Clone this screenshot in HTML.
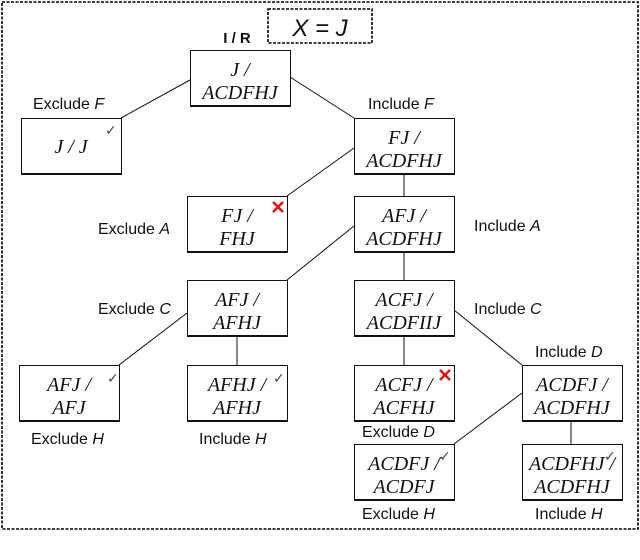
<!DOCTYPE html>
<html><head><meta charset="utf-8"><style>
html,body{margin:0;padding:0;background:#fff;}
svg{display:block;}
.bt{font-family:"Liberation Serif",serif;font-style:italic;font-size:20px;fill:#111;}
.lb{font-family:"Liberation Sans",sans-serif;font-size:16px;fill:#111;}
.lb tspan.i{font-style:italic;}
</style></head><body>
<svg width="640" height="560" viewBox="0 0 640 560" xmlns="http://www.w3.org/2000/svg">
<rect x="2" y="2" width="636" height="527" fill="none" stroke="#000" stroke-width="1.6" stroke-dasharray="3,1.5"/>
<rect x="268" y="9" width="104" height="34" fill="none" stroke="#000" stroke-width="1.6" stroke-dasharray="3,1.5"/>
<text x="320" y="36" text-anchor="middle" font-family="Liberation Sans,sans-serif" font-size="24" font-style="italic" fill="#111">X = J</text>
<text x="237" y="43" text-anchor="middle" font-family="Liberation Sans,sans-serif" font-size="15" font-weight="bold" fill="#111">I / R</text>
<g stroke="#111" stroke-width="1" fill="none">
<line x1="190" y1="80" x2="121" y2="118"/>
<line x1="290" y1="77" x2="354" y2="118"/>
<line x1="354" y1="148" x2="287" y2="196"/>
<line x1="404" y1="173" x2="404" y2="196"/>
<line x1="354" y1="226" x2="287" y2="280"/>
<line x1="404" y1="251" x2="404" y2="280"/>
<line x1="187" y1="313" x2="119" y2="365"/>
<line x1="237" y1="336" x2="237" y2="365"/>
<line x1="404" y1="336" x2="404" y2="365"/>
<line x1="454" y1="310" x2="522" y2="365"/>
<line x1="522" y1="393" x2="454" y2="444"/>
<line x1="571" y1="420" x2="571" y2="444"/>
</g>
<g fill="#fff" stroke="#111" stroke-width="1">
<rect x="190.5" y="50.5" width="100" height="55"/>
<rect x="21.5" y="118.5" width="100" height="55"/>
<rect x="354.5" y="118.5" width="100" height="55"/>
<rect x="187.5" y="196.5" width="100" height="55"/>
<rect x="354.5" y="196.5" width="100" height="55"/>
<rect x="187.5" y="280.5" width="100" height="55"/>
<rect x="354.5" y="280.5" width="100" height="55"/>
<rect x="19.5" y="365.5" width="100" height="55"/>
<rect x="187.5" y="365.5" width="100" height="55"/>
<rect x="354.5" y="365.5" width="100" height="55"/>
<rect x="522.5" y="365.5" width="100" height="55"/>
<rect x="354.5" y="444.5" width="100" height="55"/>
<rect x="522.5" y="444.5" width="100" height="55"/>
</g>
<g stroke="#111" stroke-width="2">
<line x1="190" y1="106" x2="291" y2="106"/><line x1="21" y1="174" x2="122" y2="174"/>
<line x1="354" y1="174" x2="455" y2="174"/><line x1="187" y1="252" x2="288" y2="252"/>
<line x1="354" y1="252" x2="455" y2="252"/><line x1="187" y1="336" x2="288" y2="336"/>
<line x1="354" y1="336" x2="455" y2="336"/><line x1="19" y1="421" x2="120" y2="421"/>
<line x1="187" y1="421" x2="288" y2="421"/><line x1="354" y1="421" x2="455" y2="421"/>
<line x1="522" y1="421" x2="623" y2="421"/><line x1="354" y1="500" x2="455" y2="500"/>
<line x1="522" y1="500" x2="623" y2="500"/>
</g>
<g class="bt" text-anchor="middle">
<text x="240" y="76">J /</text><text x="240" y="99">ACDFHJ</text>
<text x="71" y="153">J / J</text>
<text x="404" y="144">FJ /</text><text x="404" y="167">ACDFHJ</text>
<text x="237" y="222">FJ /</text><text x="237" y="245">FHJ</text>
<text x="404" y="222">AFJ /</text><text x="404" y="245">ACDFHJ</text>
<text x="237" y="306">AFJ /</text><text x="237" y="329">AFHJ</text>
<text x="404" y="306">ACFJ /</text><text x="404" y="329">ACDFIIJ</text>
<text x="69" y="391">AFJ /</text><text x="69" y="414">AFJ</text>
<text x="237" y="391">AFHJ /</text><text x="237" y="414">AFHJ</text>
<text x="404" y="391">ACFJ /</text><text x="404" y="414">ACFHJ</text>
<text x="572" y="391">ACDFJ /</text><text x="572" y="414">ACDFHJ</text>
<text x="404" y="470">ACDFJ /</text><text x="404" y="493">ACDFJ</text>
<text x="572" y="470">ACDFHJ /</text><text x="572" y="493">ACDFHJ</text>
</g>
<g font-family="DejaVu Sans,sans-serif" font-size="14" fill="#444">
<text x="105" y="135">✓</text><text x="107" y="383">✓</text><text x="273" y="383">✓</text>
<text x="439" y="461">✓</text><text x="604" y="461">✓</text>
</g>
<g stroke="#e01010" stroke-width="2.4">
<line x1="273" y1="202" x2="283" y2="212"/><line x1="283" y1="202" x2="273" y2="212"/>
<line x1="440" y1="370" x2="450" y2="380"/><line x1="450" y1="370" x2="440" y2="380"/>
</g>
<g class="lb">
<text x="33" y="109">Exclude <tspan class="i">F</tspan></text>
<text x="368" y="109">Include <tspan class="i">F</tspan></text>
<text x="98" y="234">Exclude <tspan class="i">A</tspan></text>
<text x="474" y="231">Include <tspan class="i">A</tspan></text>
<text x="98" y="314">Exclude <tspan class="i">C</tspan></text>
<text x="474" y="314">Include <tspan class="i">C</tspan></text>
<text x="535" y="357">Include <tspan class="i">D</tspan></text>
<text x="31" y="444">Exclude <tspan class="i">H</tspan></text>
<text x="199" y="444">Include <tspan class="i">H</tspan></text>
<text x="362" y="437">Exclude <tspan class="i">D</tspan></text>
<text x="362" y="519">Exclude <tspan class="i">H</tspan></text>
<text x="535" y="519">Include <tspan class="i">H</tspan></text>
</g>
</svg>
</body></html>
